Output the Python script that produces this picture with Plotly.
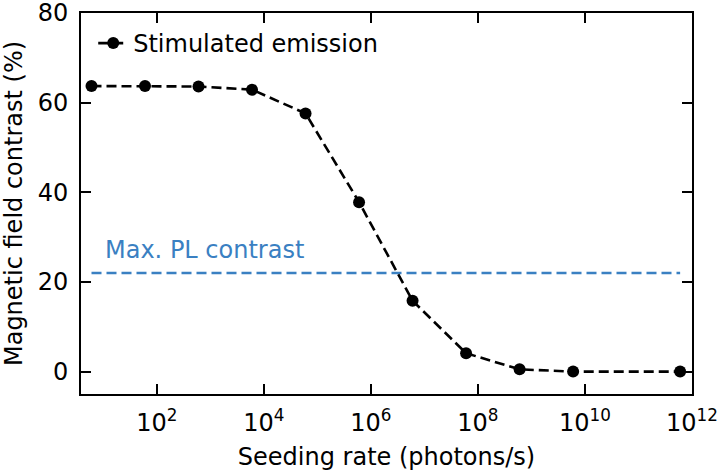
import plotly.graph_objects as go

# Data
seeding_rate = [6e0, 6e1, 6e2, 6e3, 6e4, 6e5, 6e6, 6e7, 6e8, 6e9, 6e11]
contrast = [63.7, 63.7, 63.6, 62.9, 57.6, 37.8, 15.8, 4.1, 0.5, 0.0, 0.0]
max_pl_contrast = 22.0
pl_x = [6e0, 6e11]
x_tickvals = [1e2, 1e4, 1e6, 1e8, 1e10, 1e12]
x_ticktext = ["10<sup>2</sup>", "10<sup>4</sup>", "10<sup>6</sup>", "10<sup>8</sup>",
              "10<sup>10</sup>", "10<sup>12</sup>"]
y_tickvals = [0, 20, 40, 60, 80]

FONT = "DejaVu Sans"
FS = 24
BLUE = "#3a80c2"

fig = go.Figure()
fig.add_trace(go.Scatter(
    x=pl_x, y=[max_pl_contrast, max_pl_contrast], mode="lines",
    line=dict(color=BLUE, width=2.6, dash="10px,5px"), showlegend=False,
    hoverinfo="skip"))
fig.add_trace(go.Scatter(
    x=seeding_rate, y=contrast, mode="lines+markers", name="Stimulated emission",
    line=dict(color="black", width=2.6, dash="10px,5px"),
    marker=dict(color="black", size=12)))

fig.add_annotation(x=0.036, xref="paper", y=27.1, yref="y", text="Max. PL contrast",
                   showarrow=False, xanchor="left", yanchor="middle",
                   font=dict(family=FONT, size=FS, color=BLUE))

axis_common = dict(showline=True, linecolor="black", linewidth=2, mirror="ticks",
                   ticks="inside", ticklen=10, tickwidth=2, tickcolor="black",
                   showgrid=False, zeroline=False, automargin=False,
                   ticklabeloverflow="allow",
                   tickfont=dict(family=FONT, size=FS, color="black"))

fig.update_xaxes(type="log", range=[0.582, 12.0], tickvals=x_tickvals, ticktext=x_ticktext,
                 title=dict(text="Seeding rate (photons/s)", font=dict(family=FONT, size=FS, color="black"),
                            standoff=12),
                 ticklabelstandoff=6,
                 **axis_common)
fig.update_yaxes(range=[-5, 80.001], tickvals=y_tickvals,
                 title=dict(text="Magnetic field contrast (%)", font=dict(family=FONT, size=FS, color="black"),
                            standoff=8),
                 ticklabelstandoff=6,
                 **axis_common)

fig.update_layout(
    width=720, height=472,
    margin=dict(l=81, r=28, t=13, b=78),
    paper_bgcolor="white", plot_bgcolor="white",
    font=dict(family=FONT, size=FS, color="black"),
    legend=dict(x=0.02, y=0.92, xanchor="left", yanchor="middle",
                bgcolor="rgba(0,0,0,0)", font=dict(family=FONT, size=FS, color="black")),
)

fig.write_html("out.html", config={"displayModeBar": False})

# remove default page margin so the figure sits at the window's top-left corner
with open("out.html", "r", encoding="utf-8") as f:
    html = f.read()
html = html.replace("<body>", '<body style="margin:0;padding:0;overflow:hidden">', 1)
with open("out.html", "w", encoding="utf-8") as f:
    f.write(html)
